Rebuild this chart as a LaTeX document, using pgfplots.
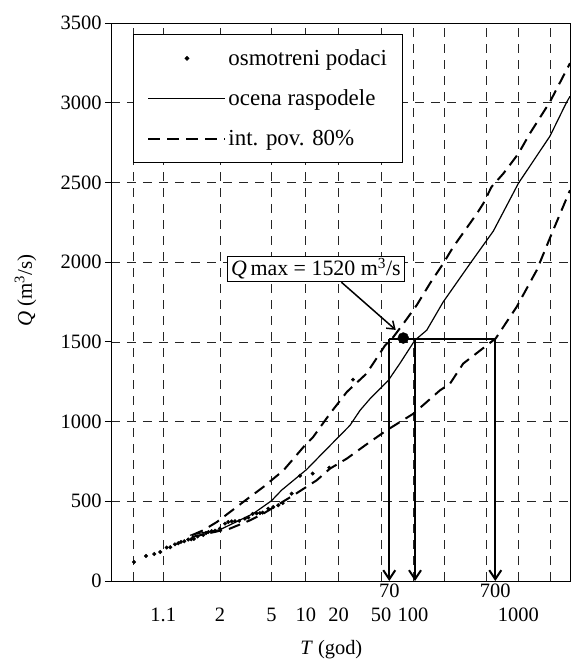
\documentclass[border=0pt]{standalone}
\usepackage{fontspec}
\setmainfont{Liberation Serif}
\usepackage{pgfplots}
\pgfplotsset{compat=1.18}
\usetikzlibrary{arrows.meta}
\newcommand{\lgf}{\fontsize{23}{27}\selectfont}
\begin{document}
\begin{tikzpicture}
\begin{axis}[
  scale only axis, width=459bp, height=558bp,
  xmin=-2.02, xmax=8.04, ymin=0, ymax=3500,
  clip=false,
  axis line style={line width=0.9bp, black},
  xtick={-1.5293,-0.8746,0.3665,1.4999,2.2504,2.9702,3.9019,4.6001,5.2958,6.2136,6.9073,7.6006},
  xticklabels={,1.1,2,5,10,20,50,100,,,1000,},
  ytick={0,500,...,3500},
  tick pos=left,
  tick align=outside,
  major tick length=6bp,
  xtick style={draw=none},
  ytick style={black, line width=0.8bp},
  xmajorgrids=true, ymajorgrids=true,
  major grid style={black!85, line width=0.7bp, dash pattern=on 9bp off 7bp},
  /pgf/number format/assume math mode=true,
  /pgf/number format/1000 sep={},
  tick label style={font=\fontsize{20.5}{24}\selectfont},
  xticklabel style={inner sep=1bp, text height=14bp, text depth=0bp, yshift=-19bp},
  extra x ticks={4.079,6.403},
  extra x tick labels={70,700},
  extra x tick style={grid=none, xticklabel style={yshift=24bp}},
  xlabel={\textit{T} (god)},
  xlabel style={font=\fontsize{20.5}{24}\selectfont, at={(rel axis cs:0.48,0)}, anchor=center, yshift=-69bp},
  ylabel={\textit{Q} (m\textsuperscript{3}/s)},
  ylabel style={font=\fontsize{21}{24}\selectfont, at={(rel axis cs:-0.186,0.52)}, anchor=center},
  legend style={at={(rel axis cs:0.048,0.98)}, anchor=north west, draw=black, line width=0.9bp,
    font=\lgf, row sep=19bp, inner xsep=14bp, inner ysep=13bp},
  legend cell align=left,
  legend image code/.code={\draw[#1] (0bp,0bp) -- (77bp,0bp);},
]
\addplot[only marks, mark=*, mark size=1.8bp, black,
  legend image code/.code={\fill[black] (38.5bp,0bp) circle (1.9bp);}] coordinates {
(-1.517,119) (-1.254,157) (-1.072,169) (-0.940,182) (-0.800,210) (-0.721,212)
(-0.618,230) (-0.546,237) (-0.487,245) (-0.414,249) (-0.327,260) (-0.261,262)
(-0.202,264) (-0.121,279) (0.002,289) (0.061,301) (0.112,307) (0.186,313)
(0.259,315) (0.368,329) (0.478,360) (0.550,370) (0.625,374) (0.697,375)
(0.791,377) (0.916,391) (0.989,398) (1.085,421) (1.173,424) (1.245,426)
(1.304,429) (1.427,454) (1.537,464) (1.646,475) (1.743,489) (1.940,548)
(2.122,660) (2.400,674) (2.764,711) (3.284,1263)
};
\addlegendentry{\lgf osmotreni podaci}
\addplot[black, line width=1.2bp] coordinates {
(-0.29,287) (-0.07,300) (0.37,322) (1.10,423) (1.50,504) (1.72,570) (2.27,700)
(2.56,785) (3.22,977) (3.44,1071) (3.66,1144) (4.06,1259) (4.31,1364) (4.64,1510)
(4.90,1573) (5.26,1750) (5.85,1991) (6.36,2195) (6.91,2495) (7.60,2790) (7.96,3000) (8.04,3040)
};
\addlegendentry{\lgf ocena raspodele}
\addplot[black, line width=2bp, dash pattern=on 12bp off 7bp] coordinates {
(-0.25,287) (0.00,318) (0.30,370) (0.59,433) (0.88,496) (1.32,590) (1.76,694)
(2.23,851) (2.41,903) (2.78,1050) (3.15,1186) (3.58,1301) (3.99,1479) (4.17,1531)
(4.39,1615) (4.68,1730) (4.97,1866) (5.26,1991) (5.48,2095) (6.00,2305) (6.14,2368)
(6.32,2472) (6.58,2556) (6.91,2681) (7.16,2807) (7.60,3005) (8.04,3248)
};
\addlegendentry{\lgf int. pov. 80\%}
\addplot[black, line width=2bp, dash pattern=on 12bp off 7bp, forget plot] coordinates {
(-0.25,276) (0.59,329) (1.03,381) (1.32,423) (1.98,538) (2.49,632) (2.78,705)
(3.15,768) (3.55,851) (4.02,945) (4.61,1050) (5.19,1196) (5.41,1238) (5.70,1364)
(6.41,1521) (6.87,1719) (7.31,1949) (7.64,2179) (8.04,2451)
};
% annotation lines
\addplot[black, line width=2bp, forget plot] coordinates {(4.079,1520) (6.403,1520)};
\addplot[black, line width=2bp, -{Straight Barb[length=9bp,width=12bp]}, forget plot] coordinates {(4.079,1520) (4.079,0)};
\addplot[black, line width=2bp, -{Straight Barb[length=9bp,width=12bp]}, forget plot] coordinates {(4.643,1520) (4.643,0)};
\addplot[black, line width=2bp, -{Straight Barb[length=9bp,width=12bp]}, forget plot] coordinates {(6.403,1520) (6.403,0)};
\addplot[only marks, mark=*, mark size=5.5bp, black, forget plot] coordinates {(4.386,1524)};
\draw[black, line width=1.5bp, -{Straight Barb[length=7bp,width=10bp]}] (axis cs:3.03,1874) -- (axis cs:4.22,1575);
\node[draw=black, fill=white, line width=0.9bp, font=\fontsize{22}{26}\selectfont, inner xsep=4bp, inner ysep=2bp]
  at (axis cs:2.47,1959) {\textit{Q}\,max = 1520 m\textsuperscript{3}/s};
\end{axis}
\pgfresetboundingbox
\path[use as bounding box] ([shift={(-111bp,-80bp)}]current axis.south west) rectangle ([shift={(2bp,23bp)}]current axis.north east);
\end{tikzpicture}
\end{document}
